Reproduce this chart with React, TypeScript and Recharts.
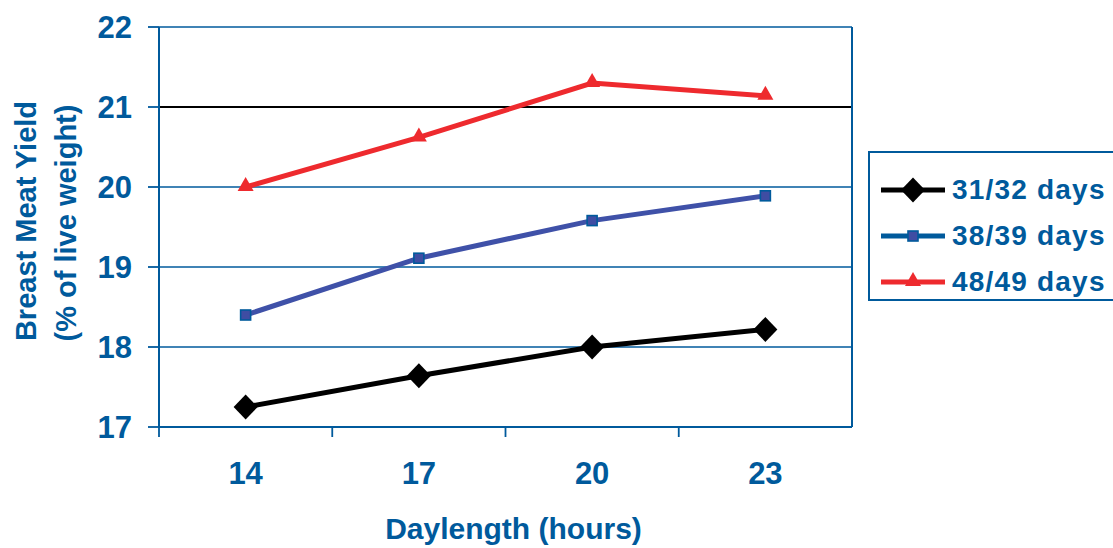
import { LineChart, Line, XAxis, YAxis, CartesianGrid, ReferenceLine, Legend } from "recharts";

const hours = [14, 17, 20, 23];
const days31 = [17.25, 17.64, 18.0, 18.22];
const days38 = [18.4, 19.11, 19.58, 19.89];
const days48 = [20.0, 20.62, 21.3, 21.14];
const yTicks = [17, 18, 19, 20, 21, 22];
// category boundaries get a tick mark only, the hours get a label
const xBoundaries = [12.5, 15.5, 18.5, 21.5];

const data = hours.map((h, i) => ({ hours: h, d31: days31[i], d38: days38[i], d48: days48[i] }));

const BLUE = "#005a9c";
const FONT = '"Liberation Sans", Arial, sans-serif';

const series = [
  { key: "d31", name: "31/32 days", stroke: "#000000", legendStroke: "#000000", shape: "diamond" },
  { key: "d38", name: "38/39 days", stroke: "#3f51a8", legendStroke: BLUE, shape: "square" },
  { key: "d48", name: "48/49 days", stroke: "#ee2a2e", legendStroke: "#ee2a2e", shape: "triangle" },
];

function Marker({ cx, cy, shape, color }: any) {
  if (cx == null || cy == null) return null;
  if (shape === "diamond") {
    return <polygon points={`${cx},${cy - 12.5} ${cx + 12},${cy} ${cx},${cy + 12.5} ${cx - 12},${cy}`} fill="#000" />;
  }
  if (shape === "square") {
    return <rect x={cx - 5} y={cy - 5} width={10} height={10} fill="#3f4da3" stroke={BLUE} strokeWidth={1.6} />;
  }
  return <polygon points={`${cx},${cy - 10} ${cx + 8},${cy + 4} ${cx - 8},${cy + 4}`} fill={color} />;
}

function XTick({ x, y, payload }: any) {
  const v = payload.value;
  if (xBoundaries.includes(v)) {
    return <line x1={x} x2={x} y1={y} y2={y + 10} stroke={BLUE} strokeWidth={1.8} />;
  }
  return (
    <text x={x} y={y + 57} textAnchor="middle" fill={BLUE} fontFamily={FONT} fontWeight="bold" fontSize={31}>
      {v}
    </text>
  );
}

function LegendBox() {
  return (
    <div
      style={{
        border: `2px solid ${BLUE}`,
        width: 260,
        height: 150,
        boxSizing: "border-box",
        paddingTop: 14,
        paddingLeft: 11,
        fontFamily: FONT,
        fontWeight: "bold",
        fontSize: 28,
        color: BLUE,
      }}
    >
      {series.map((s) => (
        <div key={s.key} style={{ display: "flex", alignItems: "center", height: 46 }}>
          <svg width={66} height={30} style={{ marginRight: 5 }}>
            <line x1={0} x2={64} y1={15} y2={15} stroke={s.legendStroke} strokeWidth={5} />
            <Marker cx={32} cy={15} shape={s.shape} color={s.stroke} />
          </svg>
          <span style={{ letterSpacing: 1.2 }}>{s.name}</span>
        </div>
      ))}
    </div>
  );
}

export default function App() {
  return (
    <div style={{ position: "absolute", left: 0, top: 0, width: 1113, height: 548, background: "#fff" }}>
      <LineChart width={1113} height={548} data={data} margin={{ top: 27, right: 261, bottom: 0, left: 0 }}>
        <CartesianGrid horizontal vertical={false} stroke={BLUE} strokeWidth={1.6} />
        <ReferenceLine y={21} stroke="#000" strokeWidth={2} />
        <ReferenceLine x={24.5} stroke={BLUE} strokeWidth={2} />
        <XAxis
          dataKey="hours"
          type="number"
          domain={[12.5, 24.5]}
          ticks={[12.5, 14, 15.5, 17, 18.5, 20, 21.5, 23]}
          interval={0}
          height={121}
          tickSize={0}
          tickMargin={0}
          tickLine={false}
          axisLine={{ stroke: BLUE, strokeWidth: 2 }}
          tick={<XTick />}
          label={{
            content: ({ viewBox }: any) => (
              <text
                x={viewBox.x + viewBox.width / 2 + 8}
                y={viewBox.y + 112}
                textAnchor="middle"
                fill={BLUE}
                fontFamily={FONT}
                fontWeight="bold"
                fontSize={30}
              >
                Daylength (hours)
              </text>
            ),
          }}
        />
        <YAxis
          type="number"
          domain={[17, 22]}
          ticks={yTicks}
          interval={0}
          width={159}
          tickSize={11}
          tickMargin={16}
          tickLine={{ stroke: BLUE, strokeWidth: 1.8 }}
          axisLine={{ stroke: BLUE, strokeWidth: 2 }}
          tick={{ fill: BLUE, fontFamily: FONT, fontWeight: "bold", fontSize: 31 }}
          label={{
            content: () => (
              <g fill={BLUE} fontFamily={FONT} fontWeight="bold" fontSize={29} textAnchor="middle">
                <text transform="translate(36, 221) rotate(-90)">Breast Meat Yield</text>
                <text transform="translate(76, 223) rotate(-90)">(% of live weight)</text>
              </g>
            ),
          }}
        />
        <Legend
          layout="vertical"
          align="center"
          verticalAlign="middle"
          wrapperStyle={{ position: "absolute", left: 868, top: 151, width: 260, height: 150 }}
          content={() => <LegendBox />}
        />
        {series.map((s) => (
          <Line
            key={s.key}
            dataKey={s.key}
            name={s.name}
            stroke={s.stroke}
            strokeWidth={5}
            isAnimationActive={false}
            dot={(p: any) => <Marker key={`${s.key}-${p.index}`} cx={p.cx} cy={p.cy} shape={s.shape} color={s.stroke} />}
            activeDot={false}
          />
        ))}
      </LineChart>
    </div>
  );
}
